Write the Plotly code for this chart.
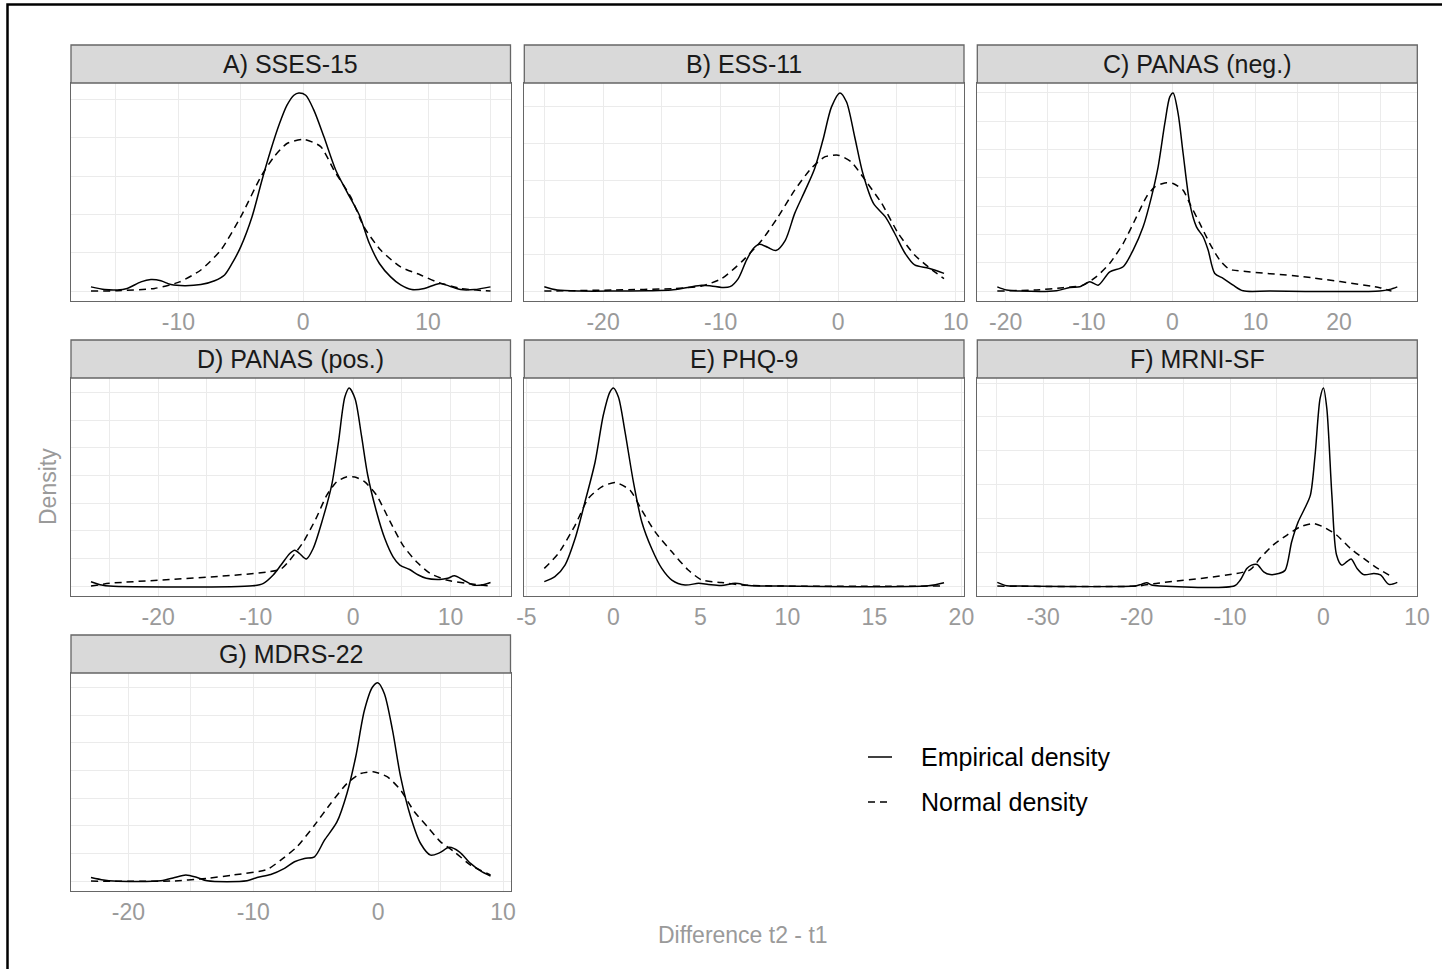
import plotly.graph_objects as go

W, H = 1442, 969

panel_titles = ["A) SSES-15", "B) ESS-11", "C) PANAS (neg.)", "D) PANAS (pos.)",
                "E) PHQ-9", "F) MRNI-SF", "G) MDRS-22"]
legend_labels = ["Empirical density", "Normal density"]

# ---------------- data (difference t2 - t1 vs density) ----------------
A_emp_x = [-17, -15.9, -14.9, -14.1, -13, -12.2, -11.4, -10.6, -9.5, -8.2, -7.1, -6.3, -5.7, -5, -4.1, -3.3, -2.6, -1.9, -1.3, -0.75, -0.35, 0.2, 0.85, 1.65, 2.6, 3.5, 4.5, 5.3, 6.1, 7, 7.8, 8.7, 9.7, 10.5, 11, 11.7, 12.6, 13.7, 15]
A_emp_y = [0.0011, 0.0004, 0.0003, 0.0007, 0.0024, 0.003, 0.0027, 0.0017, 0.0014, 0.0017, 0.0027, 0.0042, 0.0072, 0.0116, 0.0194, 0.029, 0.0368, 0.0437, 0.0485, 0.0511, 0.0517, 0.0511, 0.0472, 0.0403, 0.0316, 0.0259, 0.0198, 0.0124, 0.0072, 0.0037, 0.0016, 0.0004, 0.0007, 0.0016, 0.002, 0.0013, 0.0004, 0.0004, 0.0011]
A_norm_x = [-17, -14.9, -11.9, -9.9, -8.2, -6.6, -5, -3.4, -2.35, -1.3, 0.05, 1.4, 2.45, 3.8, 4.85, 6.2, 7.8, 9.4, 10.7, 12.6, 15]
A_norm_y = [0.0, 0.0001, 0.0007, 0.0024, 0.0055, 0.0107, 0.0194, 0.0298, 0.035, 0.0385, 0.0396, 0.0377, 0.0316, 0.0246, 0.0168, 0.0107, 0.0063, 0.0042, 0.0024, 0.0007, 0.0]

B_emp_x = [-25, -23.9, -21.9, -19, -16.2, -14.2, -12.8, -11.6, -10.8, -9.9, -9.2, -8.5, -7.8, -7.2, -6.7, -6, -5.3, -4.5, -3.7, -2.8, -2, -1.3, -0.57, 0.14, 0.7, 1.4, 2.1, 3, 4, 4.8, 5.7, 6.5, 7.7, 9]
B_emp_y = [0.0012, 0.0003, 0.0, 0.0, 0.0001, 0.0003, 0.001, 0.0016, 0.0014, 0.001, 0.0012, 0.0034, 0.0084, 0.0116, 0.0127, 0.0119, 0.011, 0.0138, 0.0211, 0.0274, 0.0333, 0.041, 0.05, 0.0538, 0.0514, 0.0419, 0.0319, 0.0238, 0.0202, 0.0157, 0.0102, 0.0071, 0.0062, 0.0048]
B_norm_x = [-25, -19, -13.9, -11.6, -9.9, -8.2, -6.5, -5.1, -3.7, -2.3, -1.1, 0, 1.1, 2.3, 3.7, 5.1, 6.5, 8, 9]
B_norm_y = [0.0, 0.0003, 0.0007, 0.0014, 0.0034, 0.008, 0.0138, 0.0202, 0.0274, 0.0333, 0.0365, 0.0369, 0.0351, 0.0301, 0.0238, 0.0157, 0.0098, 0.0057, 0.0034]

C_emp_x = [-21, -19.9, -18.3, -13.9, -12.3, -11.1, -9.9, -8.9, -7.5, -5.9, -4.7, -3.5, -2.5, -1.7, -0.9, -0.3, 0.1, 0.7, 1.3, 2.1, 2.9, 3.7, 4.3, 5.1, 6.1, 7.3, 8.5, 11.7, 24.9, 26.1, 27]
C_emp_y = [0.0015, 0.0004, 0.0, 0.0001, 0.0013, 0.0015, 0.0033, 0.0021, 0.0068, 0.0086, 0.0145, 0.0227, 0.0333, 0.0439, 0.0592, 0.0686, 0.07, 0.0627, 0.0486, 0.0309, 0.0227, 0.0192, 0.0145, 0.0062, 0.0045, 0.0021, 0.0001, 0.0, 0.0, 0.0006, 0.0015]
C_norm_x = [-21, -16.3, -13.1, -10.7, -9.1, -7.5, -5.9, -4.3, -3.1, -2.1, -0.9, 0.1, 1.3, 2.1, 3.3, 4.5, 5.7, 6.7, 7.3, 15.7, 24.9, 26.3]
C_norm_y = [0.0, 0.0004, 0.0012, 0.0021, 0.0051, 0.0098, 0.0168, 0.0262, 0.0333, 0.0368, 0.0382, 0.038, 0.0356, 0.0309, 0.0239, 0.0168, 0.0109, 0.008, 0.0074, 0.0051, 0.0012, 0.0]

D_emp_x = [-26.9, -25.8, -25, -10.3, -9.2, -8.2, -7.4, -6.5, -6, -5.5, -4.8, -4.1, -3.1, -2.2, -1.5, -0.85, -0.4, 0.2, 0.85, 1.5, 2.4, 3.25, 4.1, 4.8, 5.8, 6.7, 7.5, 8.9, 9.7, 10.4, 11.3, 12.3, 13.2, 14.1]
D_emp_y = [0.0016, 0.0004, 0.0, 0.0001, 0.001, 0.004, 0.0076, 0.0118, 0.013, 0.0118, 0.0098, 0.0136, 0.0245, 0.0365, 0.0522, 0.0684, 0.0717, 0.0678, 0.0546, 0.0401, 0.0269, 0.0172, 0.0106, 0.0076, 0.006, 0.004, 0.0028, 0.0024, 0.0028, 0.0037, 0.0022, 0.0004, 0.0004, 0.0013]
D_norm_x = [-26.9, -25, -7.5, -6.5, -5.1, -3.8, -2.7, -1.7, -0.7, 0.17, 1.2, 2.4, 3.8, 5.1, 6.5, 7.9, 9.6, 11.6, 14.1]
D_norm_y = [0.0, 0.001, 0.006, 0.0094, 0.016, 0.0245, 0.0329, 0.0377, 0.0395, 0.0395, 0.0377, 0.0329, 0.0233, 0.0148, 0.0088, 0.0046, 0.0022, 0.001, 0.0]

E_emp_x = [-3.97, -3.36, -2.78, -2.2, -1.63, -1.05, -0.58, -0.2, 0, 0.29, 0.67, 1.15, 1.63, 2.2, 2.78, 3.36, 4.12, 4.9, 5.46, 6.2, 7, 7.8, 9.7, 18.1, 19]
E_emp_y = [0.0016, 0.0034, 0.0076, 0.0172, 0.0305, 0.0449, 0.0618, 0.0702, 0.0717, 0.0684, 0.0558, 0.0377, 0.0233, 0.0136, 0.0064, 0.0022, 0.0004, 0.001, 0.0006, 0.0002, 0.001, 0.0002, 0.0, 0.0001, 0.0012]
E_norm_x = [-3.97, -3.16, -2.2, -1.44, -0.67, 0.1, 0.96, 1.63, 2.4, 3.36, 4.3, 5.08, 6.2, 7.4, 9.7, 19]
E_norm_y = [0.0064, 0.0118, 0.022, 0.0317, 0.0359, 0.0375, 0.0347, 0.0275, 0.0196, 0.0124, 0.0058, 0.0022, 0.0013, 0.0004, 0.0, 0.0]

F_emp_x = [-34.9, -33.9, -32.5, -20, -19.5, -18.9, -18.4, -17.5, -9.5, -8.9, -8.2, -7.7, -7.1, -6.4, -5.7, -4.8, -4.1, -3.4, -2.7, -2, -1.4, -0.9, -0.36, 0, 0.36, 0.9, 1.4, 1.96, 2.5, 2.96, 3.6, 4.3, 5.4, 6.1, 7, 7.9]
F_emp_y = [0.0011, 0.0001, 0.0, 0.0001, 0.0005, 0.001, 0.0003, 0.0, 0.0001, 0.0018, 0.0052, 0.0062, 0.0064, 0.0042, 0.0034, 0.0037, 0.0047, 0.0131, 0.019, 0.023, 0.0269, 0.0387, 0.0555, 0.0586, 0.0525, 0.0269, 0.0092, 0.0062, 0.0072, 0.008, 0.0052, 0.0034, 0.0037, 0.0033, 0.0005, 0.0011]
F_norm_x = [-34.9, -20, -17.9, -7.9, -6.8, -5.4, -3.9, -2.5, -1.1, 0, 1.4, 2.9, 4.3, 5.7, 7.3]
F_norm_y = [0.0, 0.0, 0.0008, 0.0047, 0.0082, 0.0121, 0.0151, 0.0175, 0.0185, 0.0175, 0.0151, 0.0111, 0.0082, 0.0054, 0.0028]

G_emp_x = [-23, -22, -21.2, -17.4, -16.3, -15.4, -14.5, -13.7, -10.5, -9.7, -8.6, -7.5, -6.7, -5.9, -5.1, -4.3, -3.3, -2.5, -1.8, -1.1, -0.45, 0, 0.5, 1.15, 1.8, 2.6, 3.4, 4.2, 4.9, 5.7, 6.5, 7.4, 8.2, 9]
G_emp_y = [0.0013, 0.0004, 0.0, 0.0001, 0.0013, 0.0022, 0.0013, 0.0001, 0.0001, 0.0013, 0.0024, 0.0046, 0.007, 0.0082, 0.0088, 0.0148, 0.0214, 0.0317, 0.0449, 0.0618, 0.0702, 0.0717, 0.0678, 0.0546, 0.0377, 0.0233, 0.0136, 0.0094, 0.0102, 0.0122, 0.0106, 0.0064, 0.0037, 0.0018]
G_norm_x = [-23, -16.6, -13.7, -11.6, -8.9, -7.8, -6.5, -5.1, -3.8, -2.5, -1.4, -0.3, 0.75, 1.8, 2.9, 3.96, 5, 6.1, 7.4, 9]
G_norm_y = [0.0, 0.0, 0.001, 0.0022, 0.0042, 0.0076, 0.0124, 0.0202, 0.0281, 0.0353, 0.0389, 0.0395, 0.0377, 0.0329, 0.0251, 0.0196, 0.0142, 0.0106, 0.0058, 0.0022]

# tick labels per panel
A_ticks = [-10, 0, 10]
B_ticks = [-20, -10, 0, 10]
C_ticks = [-20, -10, 0, 10, 20]
D_ticks = [-20, -10, 0, 10]
E_ticks = [-5, 0, 5, 10, 15, 20]
F_ticks = [-30, -20, -10, 0, 10]
G_ticks = [-20, -10, 0, 10]
minor_steps = [5, 5, 5, 5, 2.5, 5, 5]

panels = [
    (A_emp_x, A_emp_y, A_norm_x, A_norm_y, A_ticks),
    (B_emp_x, B_emp_y, B_norm_x, B_norm_y, B_ticks),
    (C_emp_x, C_emp_y, C_norm_x, C_norm_y, C_ticks),
    (D_emp_x, D_emp_y, D_norm_x, D_norm_y, D_ticks),
    (E_emp_x, E_emp_y, E_norm_x, E_norm_y, E_ticks),
    (F_emp_x, F_emp_y, F_norm_x, F_norm_y, F_ticks),
    (G_emp_x, G_emp_y, G_norm_x, G_norm_y, G_ticks),
]

# ---------------- layout geometry (pixels) ----------------
cols_px = [(71, 510.5), (524.3, 964), (977.3, 1417.3)]
rows_px = [(83, 301), (378, 596), (673, 891)]
strip_h = 38

GRID = "#EBEBEB"
BORDER = "#666666"
TICKCOL = "#9a9a9a"
FONT = "Liberation Sans, Arial, sans-serif"
DASH = "7px,5px"

fig = go.Figure()
shapes = []
annotations = []

for i, (ex, ey, nx, ny, ticks) in enumerate(panels):
    r, c = divmod(i, 3)
    k = "" if i == 0 else str(i + 1)
    xa, ya = "x" + k, "y" + k
    x0p, x1p = cols_px[c]
    y0p, y1p = rows_px[r]

    xmin = min(min(ex), min(nx)); xmax = max(max(ex), max(nx))
    pad = 0.05 * (xmax - xmin)
    ymax = max(max(ey), max(ny))

    fig.add_trace(go.Scatter(x=ex, y=ey, xaxis=xa, yaxis=ya, mode="lines",
                             line=dict(color="black", width=1.5, shape="spline", smoothing=0.8),
                             name=legend_labels[0], showlegend=False, hoverinfo="skip"))
    fig.add_trace(go.Scatter(x=nx, y=ny, xaxis=xa, yaxis=ya, mode="lines",
                             line=dict(color="black", width=1.5, dash=DASH, shape="spline", smoothing=0.6),
                             name=legend_labels[1], showlegend=False, hoverinfo="skip"))

    xkey = "xaxis" + k
    ykey = "yaxis" + k
    fig.update_layout({
        xkey: dict(domain=[x0p / W, x1p / W], anchor=ya,
                   range=[xmin - pad, xmax + pad],
                   tickmode="array", tickvals=ticks, ticktext=[str(t) for t in ticks],
                   showgrid=True, gridcolor=GRID, gridwidth=1.3,
                   minor=dict(showgrid=True, gridcolor=GRID, gridwidth=0.7,
                              tickmode="linear", tick0=0, dtick=minor_steps[i]),
                   zeroline=False, showline=True, mirror=True,
                   linecolor=BORDER, linewidth=1.3, ticks="",
                   ticklabelstandoff=0, automargin=False,
                   tickfont=dict(size=23, color=TICKCOL, family=FONT)),
        ykey: dict(domain=[1 - y1p / H, 1 - y0p / H], anchor=xa,
                   range=[-0.05 * ymax, 1.05 * ymax],
                   tickmode="linear", tick0=0, dtick=0.02, showticklabels=False,
                   showgrid=True, gridcolor=GRID, gridwidth=1.3,
                   minor=dict(showgrid=True, gridcolor=GRID, gridwidth=0.7,
                              tickmode="linear", tick0=0, dtick=0.01),
                   zeroline=False, showline=True, mirror=True, automargin=False,
                   linecolor=BORDER, linewidth=1.3, ticks=""),
    })

    # strip
    shapes.append(dict(type="rect", xref="paper", yref="paper",
                       x0=x0p / W, x1=x1p / W,
                       y0=1 - y0p / H, y1=1 - (y0p - strip_h) / H,
                       fillcolor="#D9D9D9", line=dict(color=BORDER, width=1.3), layer="above"))
    annotations.append(dict(xref="paper", yref="paper", x=(x0p + x1p) / 2 / W,
                            y=1 - (y0p - strip_h / 2) / H, text=panel_titles[i],
                            showarrow=False, xanchor="center", yanchor="middle",
                            font=dict(size=25, color="#1A1A1A", family=FONT)))

# axis titles
annotations.append(dict(xref="paper", yref="paper", x=743 / W, y=1 - 935 / H,
                        text="Difference t2 - t1", showarrow=False,
                        xanchor="center", yanchor="middle",
                        font=dict(size=23, color=TICKCOL, family=FONT)))
annotations.append(dict(xref="paper", yref="paper", x=48 / W, y=1 - 487 / H,
                        text="Density", showarrow=False, textangle=-90,
                        xanchor="center", yanchor="middle",
                        font=dict(size=23, color=TICKCOL, family=FONT)))

# legend (key lines + labels)
legend_rows_px = [757, 802]
legend_dash = ["solid", DASH]
for lab, yp, dsh in zip(legend_labels, legend_rows_px, legend_dash):
    shapes.append(dict(type="line", xref="paper", yref="paper",
                       x0=868 / W, x1=892 / W, y0=1 - yp / H, y1=1 - yp / H,
                       line=dict(color="black", width=1.5, dash=dsh)))
    annotations.append(dict(xref="paper", yref="paper", x=919 / W, y=1 - yp / H,
                            text=lab, showarrow=False, xanchor="left", yanchor="middle",
                            font=dict(size=25, color="black", family=FONT)))

# outer frame
shapes.append(dict(type="rect", xref="paper", yref="paper",
                   x0=7.5 / W, x1=1.02, y0=-0.02, y1=1 - 4.5 / H,
                   line=dict(color="black", width=2.5), fillcolor="rgba(0,0,0,0)"))

fig.update_layout(
    width=W, height=H, autosize=False,
    margin=dict(l=0, r=0, t=0, b=0, pad=0, autoexpand=False),
    paper_bgcolor="white", plot_bgcolor="white",
    shapes=shapes, annotations=annotations,
    font=dict(family=FONT),
    showlegend=False,
)

post = ("document.body.style.margin='0';document.body.style.padding='0';"
        "document.documentElement.style.overflow='hidden';document.body.style.overflow='hidden';"
        "var gd=document.getElementById('{plot_id}');"
        "Plotly.relayout(gd,{width:%d,height:%d});" % (W, H))

fig.write_html("out.html", config={"responsive": False, "displayModeBar": False},
               post_script=post)
